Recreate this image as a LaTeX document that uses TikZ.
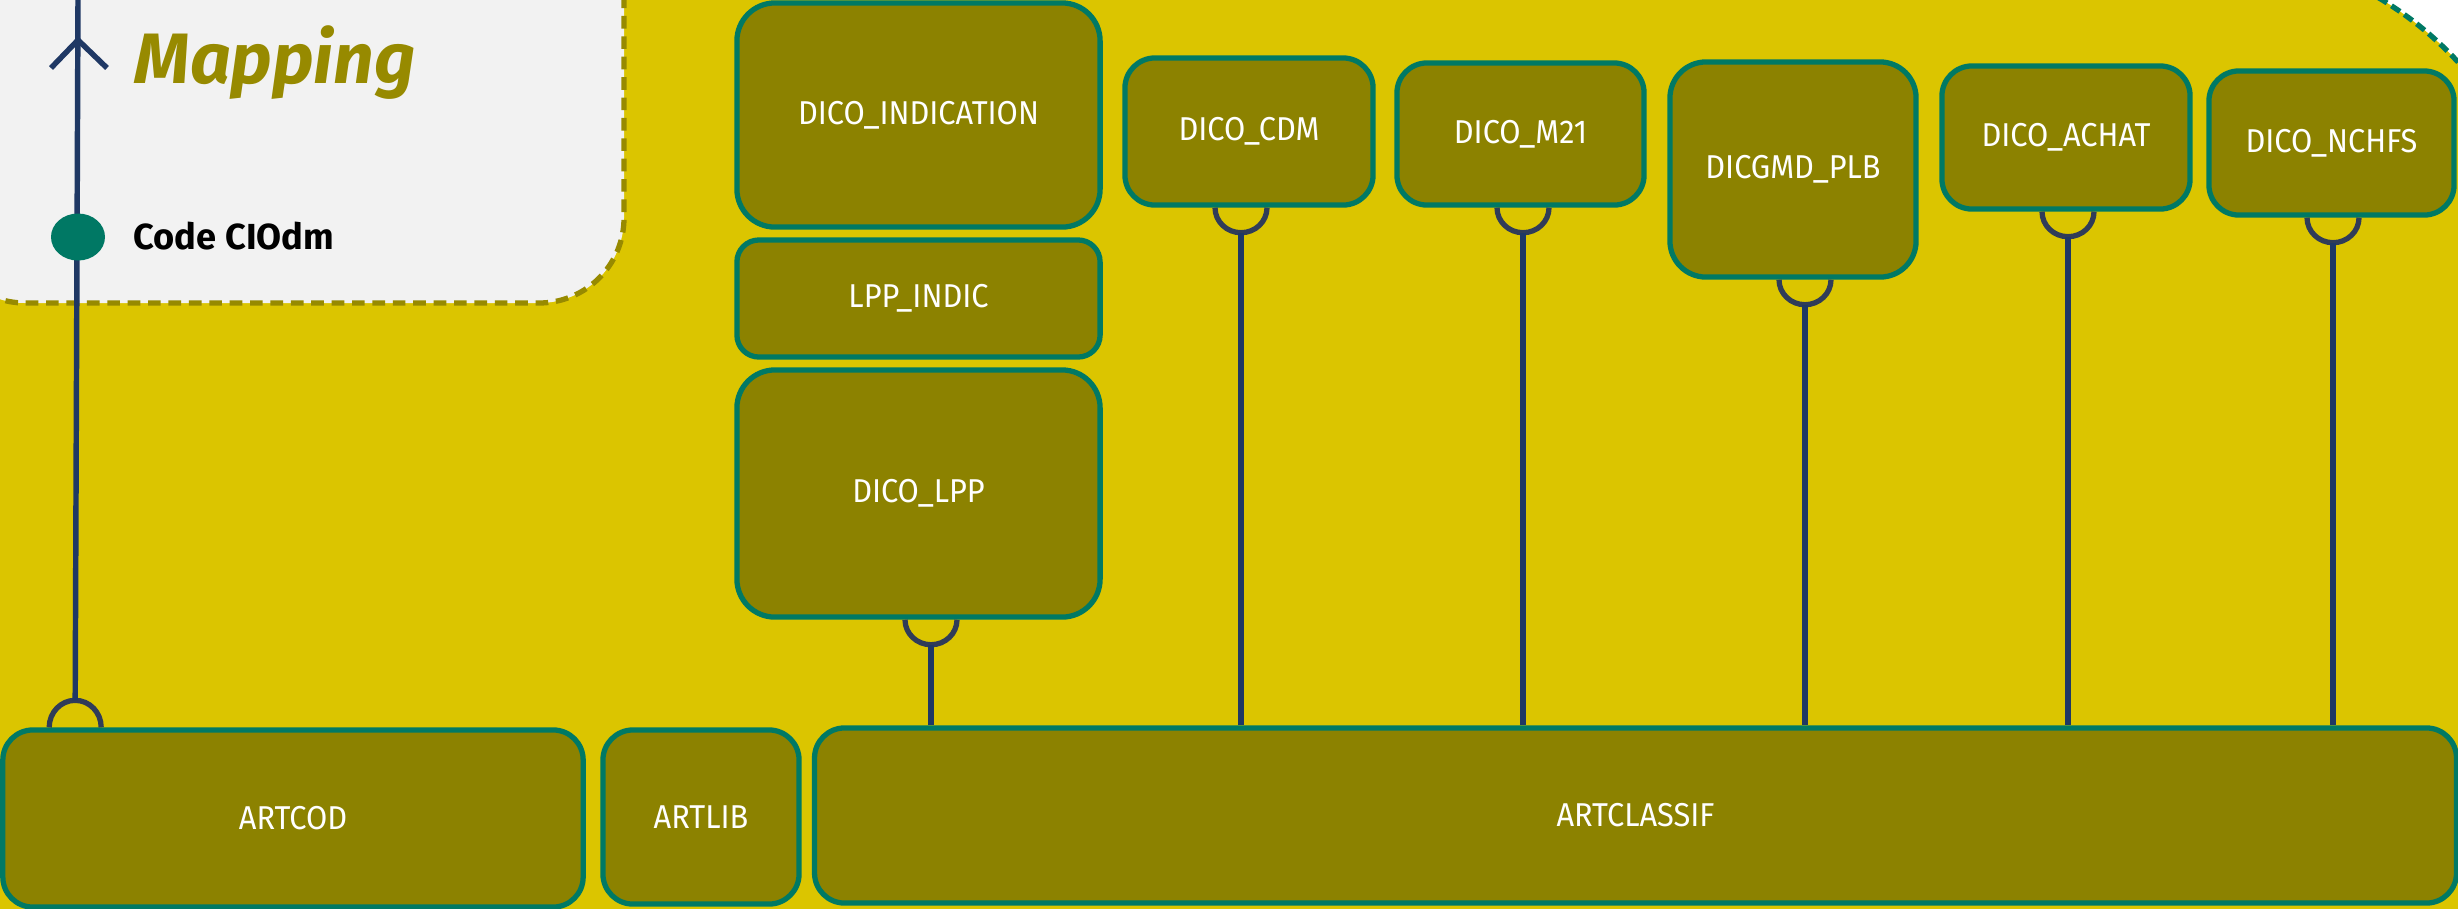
\documentclass[tikz,border=0pt]{standalone}
\usepackage{fontspec}
\setmainfont{Fira Sans}
\newfontfamily\boxfont[FakeStretch=0.93]{Fira Sans}
\usetikzlibrary{calc}
\definecolor{bgyellow}{HTML}{DBC500}
\definecolor{boxfill}{HTML}{8C8200}
\definecolor{boxborder}{HTML}{007964}
\definecolor{legendfill}{HTML}{F2F2F2}
\definecolor{mapolive}{HTML}{978A00}
\definecolor{navy}{HTML}{1F3864}
\definecolor{archc}{HTML}{303C58}
\definecolor{dotfill}{HTML}{007864}
\begin{document}
\begin{tikzpicture}[x=0.01cm,y=-0.01cm,
  box/.style={draw=boxborder, fill=boxfill, line width=1.5pt, rounded corners=0.3cm, text=white, inner sep=0pt, font=\boxfont\fontsize{9.4}{11}\selectfont},
  conn/.style={draw=navy, line width=1.55pt},
  arch/.style={draw=archc, line width=1.5pt},
]
\useasboundingbox (0,0) rectangle (2458,908);
\clip (0,0) rectangle (2458,908);
% background
\fill[white] (0,0) rectangle (2458,908);
\fill[bgyellow] (-10,-10) rectangle (2200,918);
\fill[bgyellow] (2200,300) rectangle (2468,918);
\fill[bgyellow] (2200,300) circle (351);
\begin{scope}
  \clip (2200,-10) rectangle (2468,300);
  \draw[boxborder, line width=1.5pt, dash pattern=on 2.9pt off 1.5pt] (2200,300) circle (351);
\end{scope}
% legend
\draw[fill=legendfill, draw=mapolive, line width=1.5pt, dash pattern=on 3.6pt off 2.2pt, rounded corners=0.85cm] (-60,-100) rectangle (624,303);
\node[anchor=base west, text=mapolive, font=\fontsize{20.3}{21}\selectfont\bfseries\itshape, inner sep=0pt] (maptitle) at (134,83) {Mapping};
\node[anchor=base west, text=black, font=\fontsize{10.3}{12}\selectfont\bfseries, inner sep=0pt] (codelabel) at (133,249) {Code CIOdm};

% boxes
\node[box, minimum width=3.63cm, minimum height=2.24cm, rounded corners=0.38cm] (indication) at (918.5,115) {DICO\_INDICATION};
\node[box, minimum width=3.63cm, minimum height=1.17cm, rounded corners=0.22cm] (lppindic) at (918.5,298.5) {LPP\_INDIC};
\node[box, minimum width=3.63cm, minimum height=2.47cm, rounded corners=0.38cm] (dicolpp) at (918.5,493.5) {DICO\_LPP};
\node[box, minimum width=2.48cm, minimum height=1.47cm] (cdm) at (1249,131.5) {DICO\_CDM};
\node[box, minimum width=2.47cm, minimum height=1.42cm] (m21) at (1520.5,134) {DICO\_M21};
\node[box, minimum width=2.46cm, minimum height=2.15cm, rounded corners=0.36cm] (plb) at (1793,169.5) {DICGMD\_PLB};
\node[box, minimum width=2.48cm, minimum height=1.43cm] (achat) at (2066,137.5) {DICO\_ACHAT};
\node[box, minimum width=2.45cm, minimum height=1.44cm] (nchfs) at (2331.5,143) {DICO\_NCHFS};
\node[box, minimum width=5.80cm, minimum height=1.77cm] (artcod) at (293,818.5) {ARTCOD};
\node[box, minimum width=1.96cm, minimum height=1.74cm] (artlib) at (701,817) {ARTLIB};
\node[box, minimum width=16.41cm, minimum height=1.75cm] (artclassif) at (1635.5,815.5) {ARTCLASSIF};

% ARTCOD connector with legend marks
\coordinate (ac) at ($(artcod.north west)+(75,0)$);
\coordinate (topend) at (78,0);
\draw[arch] ($(ac)+(-26,0)$) arc[start angle=180, end angle=360, x radius=26, y radius=27];
\draw[conn] ($(ac)+(0,-27)$) -- (topend);
\draw[conn] (51,68) -- (78,40) -- (107,68);
\fill[dotfill] (78,237) ellipse [x radius=27, y radius=23.5];

% connectors to ARTCLASSIF
\foreach \n/\dx in {dicolpp/12.5, cdm/-8, m21/2.5, plb/12, achat/2, nchfs/1.5}{
  \coordinate (c-\n) at ($(\n.south)+(\dx,0)$);
  \draw[arch] ($(c-\n)+(-26,0)$) arc[start angle=180, end angle=0, x radius=26, y radius=25];
  \draw[conn] ($(c-\n)+(0,25)$) -- (c-\n |- artclassif.north);
}
\end{tikzpicture}
\end{document}
